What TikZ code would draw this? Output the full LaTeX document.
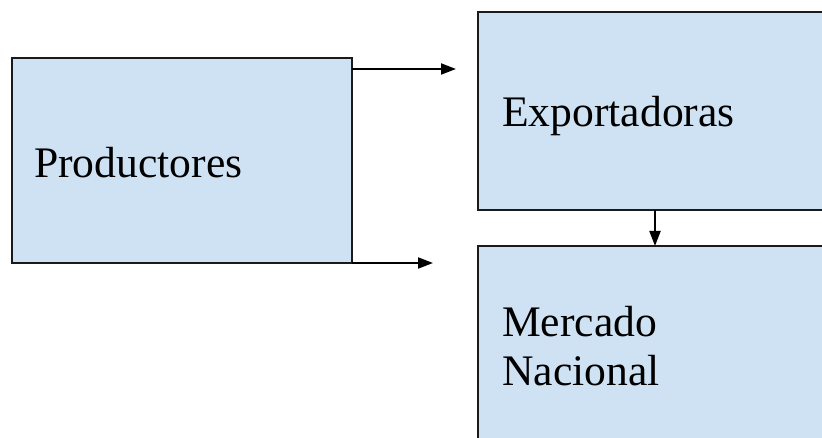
\documentclass[tikz,border=0pt]{standalone}
\usepackage{fontspec}
\setmainfont{Liberation Serif}
\usetikzlibrary{arrows.meta}
\definecolor{boxfill}{HTML}{CFE2F3}
\definecolor{boxline}{HTML}{1A1A1A}
\begin{document}
\begin{tikzpicture}[x=1pt,y=-1pt,
  box/.style={draw=boxline,fill=boxfill,line width=2.3pt,rectangle,
    inner sep=0pt,outer sep=0pt},
  label/.style={anchor=base west,inner sep=0pt,align=left,
    font=\fontsize{43.6}{49}\selectfont},
  arr/.style={draw=black,line width=2pt,-{Triangle[length=15pt,width=11pt]}}]
  \useasboundingbox (0,0) rectangle (822,438);
  \clip (0,0) rectangle (822,438);
  \fill[white] (0,0) rectangle (822,438);

  % the three boxes
  \node[box,minimum width=340pt,minimum height=205pt] (prod) at (182,160.5) {};
  \node[box,minimum width=354pt,minimum height=198pt] (exp)  at (655,111) {};
  \node[box,minimum width=354pt,minimum height=200pt] (merc) at (655,346) {};

  % box captions (a two-line caption sits on the baseline of its last line)
  \node[label] (prodtxt) at (34,178) {Productores};
  \node[label] (exptxt)  at (502,127) {Exportadoras};
  \node[label] (merctxt) at (502,385) {Mercado\\Nacional};

  % flows
  \coordinate (toexp)  at (456,69);
  \coordinate (tomerc) at (433,263);
  \draw[arr] (prod.east |- toexp) -- (toexp);
  \draw[arr] (prod.south east) -- (tomerc);
  \draw[arr] (exp.south) -- (merc.north);
\end{tikzpicture}
\end{document}
